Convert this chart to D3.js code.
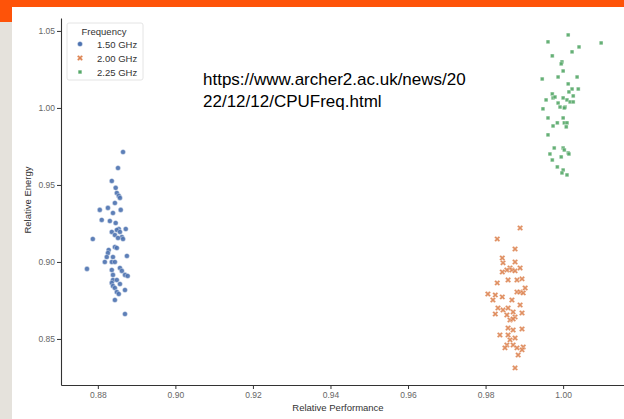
<!DOCTYPE html>
<html>
<head>
<meta charset="utf-8">
<script src="https://cdn.jsdelivr.net/npm/d3@7"></script>
<style>
  body { margin: 0; background: #fff; }
  text { font-family: "Liberation Sans", Arial, sans-serif; }
</style>
</head>
<body>
<svg id="chart" width="624" height="419"></svg>
<script>
// Frequencies shown in the legend
var freqLabels = ["1.50 GHz", "2.00 GHz", "2.25 GHz"];
var freqColors = ["#4c72b0", "#dd8452", "#55a868"];

// 1.50 GHz runs: relative performance / relative energy
var perf150 = [0.8865, 0.8852, 0.8836, 0.8846, 0.8849, 0.8854, 0.8857, 0.8844, 0.8805, 0.8826,
               0.8839, 0.8859, 0.8810, 0.8831, 0.8846, 0.8854, 0.8872, 0.8836, 0.8849, 0.8857,
               0.8844, 0.8862, 0.8852, 0.8865, 0.8787, 0.8844, 0.8849, 0.8828, 0.8826, 0.8823,
               0.8839, 0.8875, 0.8818, 0.8836, 0.8844, 0.8772, 0.8836, 0.8857, 0.8862, 0.8839,
               0.8870, 0.8877, 0.8839, 0.8849, 0.8836, 0.8857, 0.8839, 0.8844, 0.8870, 0.8849,
               0.8854, 0.8844, 0.8870];
var energy150 = [0.9714, 0.9610, 0.9526, 0.9481, 0.9448, 0.9429, 0.9416, 0.9383, 0.9338, 0.9351,
                 0.9318, 0.9338, 0.9273, 0.9266, 0.9253, 0.9214, 0.9214, 0.9195, 0.9208, 0.9195,
                 0.9175, 0.9162, 0.9156, 0.9149, 0.9149, 0.9097, 0.9091, 0.9078, 0.9058, 0.9032,
                 0.9032, 0.9039, 0.9000, 0.9000, 0.9000, 0.8955, 0.8948, 0.8961, 0.8942, 0.8916,
                 0.8916, 0.8909, 0.8883, 0.8883, 0.8864, 0.8857, 0.8844, 0.8831, 0.8818, 0.8805,
                 0.8792, 0.8753, 0.8662];

// 2.00 GHz runs
var perf200 = [0.9889, 0.9830, 0.9876, 0.9843, 0.9845, 0.9876, 0.9863, 0.9855, 0.9868, 0.9876,
               0.9889, 0.9843, 0.9830, 0.9858, 0.9881, 0.9894, 0.9902, 0.9881, 0.9889, 0.9897,
               0.9806, 0.9825, 0.9843, 0.9819, 0.9868, 0.9889, 0.9832, 0.9845, 0.9858, 0.9871,
               0.9825, 0.9855, 0.9876, 0.9863, 0.9871, 0.9894, 0.9858, 0.9871, 0.9894, 0.9837,
               0.9858, 0.9876, 0.9863, 0.9855, 0.9871, 0.9897, 0.9894, 0.9884, 0.9850, 0.9881,
               0.9876];
var energy200 = [0.9221, 0.9149, 0.9084, 0.9026, 0.8994, 0.9000, 0.8961, 0.8948, 0.8948, 0.8942,
                 0.8961, 0.8935, 0.8864, 0.8883, 0.8883, 0.8890, 0.8831, 0.8805, 0.8805, 0.8799,
                 0.8792, 0.8786, 0.8773, 0.8753, 0.8753, 0.8721, 0.8701, 0.8688, 0.8701, 0.8675,
                 0.8662, 0.8656, 0.8643, 0.8623, 0.8630, 0.8669, 0.8571, 0.8558, 0.8565, 0.8526,
                 0.8526, 0.8506, 0.8494, 0.8461, 0.8461, 0.8448, 0.8429, 0.8396, 0.8442, 0.8442,
                 0.8312];

// 2.25 GHz runs
var perf225 = [1.0013, 0.9961, 1.0041, 1.0098, 1.0023, 0.9972, 0.9997, 0.9995, 1.0000, 0.9946,
               0.9987, 1.0036, 1.0013, 1.0023, 1.0039, 1.0015, 0.9972, 0.9974, 0.9979, 0.9956,
               1.0000, 1.0010, 1.0018, 1.0026, 1.0026, 0.9987, 0.9992, 1.0005, 1.0003, 0.9948,
               0.9961, 0.9974, 0.9985, 1.0000, 1.0003, 1.0010, 1.0008, 0.9961, 0.9977, 1.0000,
               1.0003, 1.0013, 1.0015, 0.9966, 0.9995, 0.9972, 0.9985, 1.0000, 0.9997, 1.0010];
var energy225 = [1.0474, 1.0429, 1.0396, 1.0422, 1.0364, 1.0338, 1.0299, 1.0286, 1.0240, 1.0188,
                 1.0201, 1.0201, 1.0156, 1.0123, 1.0123, 1.0104, 1.0091, 1.0065, 1.0071, 1.0052,
                 1.0065, 1.0052, 1.0039, 1.0039, 1.0078, 1.0032, 1.0006, 1.0006, 1.0000, 0.9994,
                 0.9935, 0.9883, 0.9903, 0.9935, 0.9903, 0.9903, 0.9877, 0.9825, 0.9740, 0.9740,
                 0.9727, 0.9708, 0.9701, 0.9701, 0.9682, 0.9662, 0.9617, 0.9597, 0.9578, 0.9565];

var xTicks = [0.88, 0.90, 0.92, 0.94, 0.96, 0.98, 1.00];
var yTicks = [0.85, 0.90, 0.95, 1.00, 1.05];
var sourceLines = ["https://www.archer2.ac.uk/news/20", "22/12/12/CPUFreq.html"];

var svg = d3.select("#chart");

// page furniture around the screenshot
svg.append("rect").attr("x", 0).attr("y", 0).attr("width", 624).attr("height", 7).attr("fill", "#fe5309");
svg.append("rect").attr("x", 0).attr("y", 22).attr("width", 12).attr("height", 397).attr("fill", "#e5e2dc");
svg.append("rect").attr("x", 0).attr("y", 0).attr("width", 12).attr("height", 22).attr("fill", "#fe5309");

var x = d3.scaleLinear().domain([0.8705, 1.0157]).range([61, 624]);
var y = d3.scaleLinear().domain([0.8201, 1.0584]).range([385, 18]);

var xAxis = d3.axisBottom(x).tickValues(xTicks).tickFormat(d3.format(".2f")).tickSize(4).tickSizeOuter(0).tickPadding(3);
var yAxis = d3.axisLeft(y).tickValues(yTicks).tickFormat(d3.format(".2f")).tickSize(4).tickSizeOuter(0).tickPadding(2);

var gx = svg.append("g").attr("transform", "translate(0,385)").call(xAxis);
var gy = svg.append("g").attr("transform", "translate(61,0)").call(yAxis);

[gx, gy].forEach(function(g) {
    g.select(".domain").attr("stroke", "#333").attr("stroke-width", 1.1);
    g.selectAll(".tick line").attr("stroke", "#333");
    g.selectAll(".tick text")
      .attr("fill", "#666")
      .style("font-size", "8.5px")
      .style("font-family", "'Liberation Sans', Arial, sans-serif");
});

// axis titles
svg.append("text")
  .attr("x", 338).attr("y", 411)
  .attr("text-anchor", "middle")
  .attr("fill", "#333")
  .style("font-size", "9.5px")
  .text("Relative Performance");

svg.append("text")
  .attr("transform", "translate(31,200) rotate(-90)")
  .attr("text-anchor", "middle")
  .attr("fill", "#333")
  .style("font-size", "9.5px")
  .text("Relative Energy");

// one marker shape per frequency, like seaborn's style markers
var shapes = [
    d3.symbol().type(d3.symbolCircle).size(20),
    d3.symbol().type(d3.symbolCross).size(22),
    d3.symbol().type(d3.symbolSquare).size(14)
];
var rotations = [0, 45, 0];

var groups = [
    {perf: perf150, energy: energy150},
    {perf: perf200, energy: energy200},
    {perf: perf225, energy: energy225}
];

groups.forEach(function(grp, k) {
    var pts = grp.perf.map(function(p, i) { return [p, grp.energy[i]]; });
    svg.append("g").selectAll("path")
      .data(pts)
      .enter().append("path")
        .attr("d", shapes[k])
        .attr("transform", function(d) {
            return "translate(" + x(d[0]) + "," + y(d[1]) + ") rotate(" + rotations[k] + ")";
        })
        .attr("fill", freqColors[k])
        .attr("stroke", "#fff")
        .attr("stroke-width", 0.4)
        .attr("opacity", 0.9);
});

// legend
var legend = svg.append("g");
legend.append("rect")
  .attr("x", 67).attr("y", 23).attr("width", 76).attr("height", 57)
  .attr("rx", 2)
  .attr("fill", "#fff")
  .attr("stroke", "#ddd")
  .attr("stroke-width", 0.8);
legend.append("text")
  .attr("x", 104).attr("y", 35)
  .attr("text-anchor", "middle")
  .attr("fill", "#333")
  .style("font-size", "9.5px")
  .text("Frequency");

freqLabels.forEach(function(lab, k) {
    var cy = 44 + k * 14;
    legend.append("path")
      .attr("d", shapes[k])
      .attr("transform", "translate(80," + cy + ") rotate(" + rotations[k] + ")")
      .attr("fill", freqColors[k])
      .attr("stroke", "#fff")
      .attr("stroke-width", 0.4);
    legend.append("text")
      .attr("x", 97).attr("y", cy + 3.5)
      .attr("fill", "#333")
      .style("font-size", "9.5px")
      .text(lab);
});

// source link pasted over the plot
svg.append("g").selectAll("text")
  .data(sourceLines)
  .enter().append("text")
    .attr("x", 203)
    .attr("y", function(d, i) { return 85 + i * 22; })
    .attr("fill", "#000")
    .style("font-size", "17px")
    .style("font-family", "Arial, 'Liberation Sans', sans-serif")
    .text(function(d) { return d; });
</script>
</body>
</html>
